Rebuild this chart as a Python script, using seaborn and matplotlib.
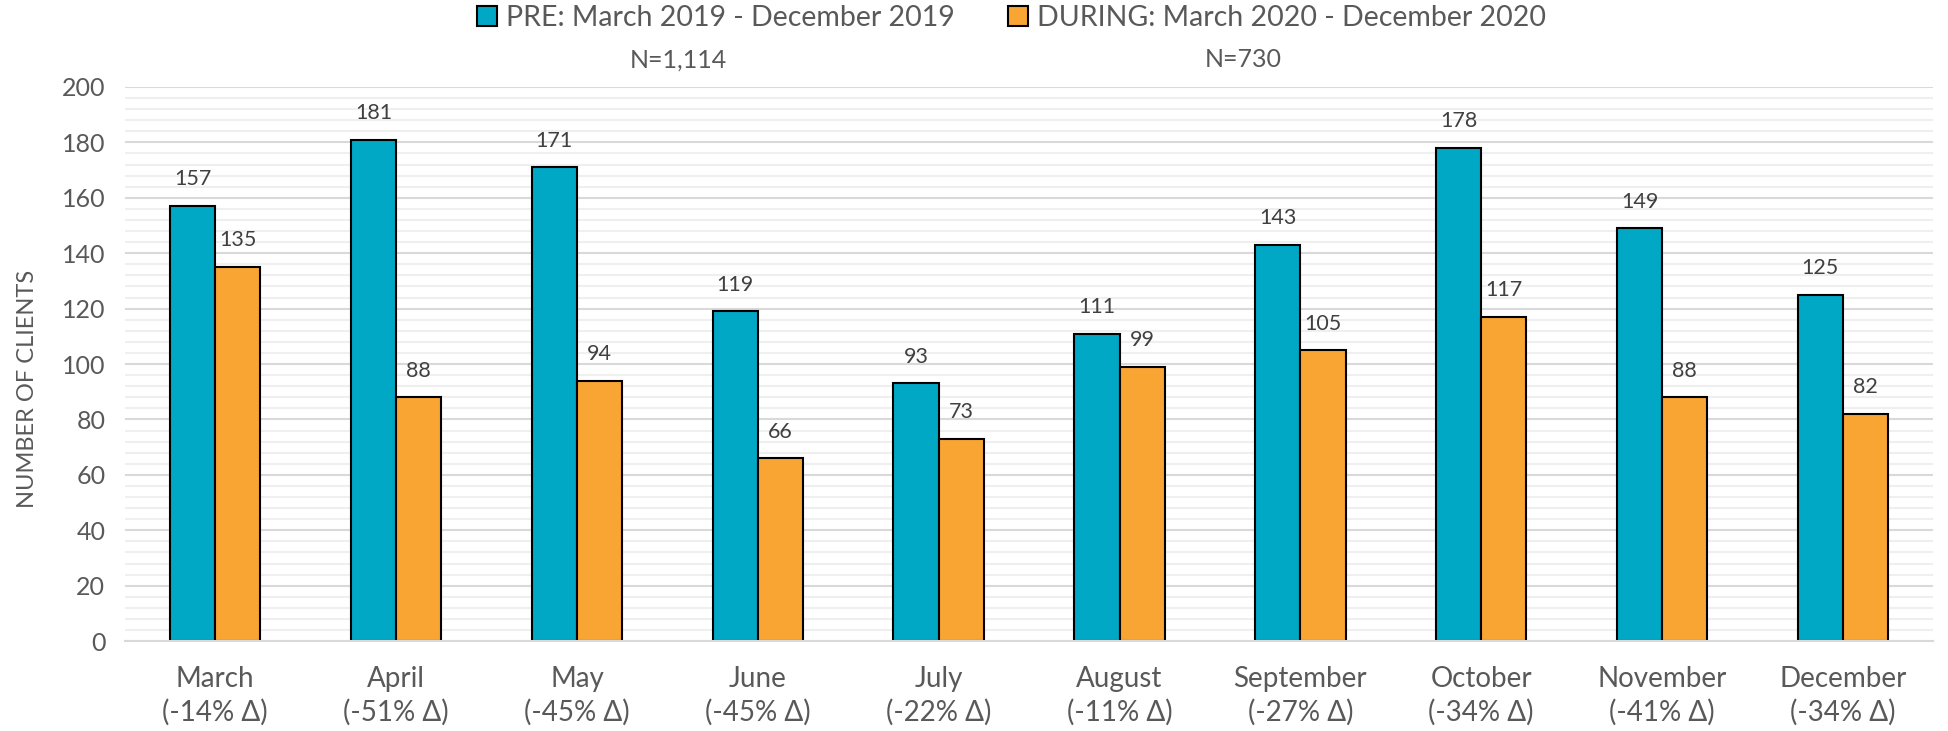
import matplotlib
matplotlib.use("Agg")
import matplotlib.pyplot as plt
import pandas as pd
import seaborn as sns
from matplotlib.patches import Patch
from matplotlib.ticker import MultipleLocator

# data
months = ["March", "April", "May", "June", "July", "August",
          "September", "October", "November", "December"]
changes = ["-14%", "-51%", "-45%", "-45%", "-22%", "-11%",
           "-27%", "-34%", "-41%", "-34%"]
pre_values = [157, 181, 171, 119, 93, 111, 143, 178, 149, 125]
during_values = [135, 88, 94, 66, 73, 99, 105, 117, 88, 82]
pre_label = "PRE: March 2019 - December 2019"
during_label = "DURING: March 2020 - December 2020"
pre_n = "N=1,114"
during_n = "N=730"

TEAL = "#00A8C5"
ORANGE = "#F8A534"
TEXT = "#595959"

tick_labels = [f"{m}\n({c} Δ)" for m, c in zip(months, changes)]

df = pd.DataFrame({
    "month": months * 2,
    "clients": pre_values + during_values,
    "period": [pre_label] * len(months) + [during_label] * len(months),
})

sns.set_theme(style="white")
plt.rcParams["font.family"] = ["Lato", "DejaVu Sans"]

fig, ax = plt.subplots(figsize=(19.49, 7.31), dpi=100)
fig.subplots_adjust(left=0.064, right=0.992, bottom=0.123, top=0.881)

sns.barplot(data=df, x="month", y="clients", hue="period", order=months,
            hue_order=[pre_label, during_label],
            palette=[TEAL, ORANGE], width=0.5, edgecolor="black",
            linewidth=1.5, saturation=1, legend=False, ax=ax)

for container in ax.containers:
    ax.bar_label(container, padding=12, fontsize=15.5, color="#404040")

ax.set_ylim(0, 200)
ax.set_xlim(-0.5, 9.5)
ax.yaxis.set_major_locator(MultipleLocator(20))
ax.yaxis.set_minor_locator(MultipleLocator(4))
ax.grid(which="major", axis="y", color="#D9D9D9", linewidth=1.5)
ax.grid(which="minor", axis="y", color="#EFEFEF", linewidth=1.5)
ax.set_axisbelow(True)
for side in ["top", "right", "left"]:
    ax.spines[side].set_visible(False)
ax.spines["bottom"].set_color("#D9D9D9")
ax.spines["bottom"].set_linewidth(1.5)

ax.set_xticks(range(len(months)))
ax.set_xticklabels(tick_labels, fontsize=20, color=TEXT, linespacing=1.32)
ax.tick_params(axis="x", length=0, pad=18)
ax.tick_params(axis="y", length=0, labelsize=18, labelcolor=TEXT, pad=14)
ax.set_xlabel("")
ax.set_ylabel("NUMBER OF CLIENTS", fontsize=17, color=TEXT)
ax.yaxis.set_label_coords(-0.048, 0.455)

handles = [Patch(facecolor=TEAL, edgecolor="black", linewidth=1.5),
           Patch(facecolor=ORANGE, edgecolor="black", linewidth=1.5)]
fig.legend(handles, [pre_label, during_label], loc="center",
           bbox_to_anchor=(0.519, 0.975), ncol=2, frameon=False,
           fontsize=20.5, labelcolor=TEXT, handlelength=0.7, handleheight=0.7,
           handletextpad=0.3, columnspacing=1.9)
fig.text(0.348, 0.918, pre_n, ha="center", va="center", fontsize=18, color=TEXT)
fig.text(0.638, 0.918, during_n, ha="center", va="center", fontsize=18, color=TEXT)

fig.savefig("out.png", dpi=100)
